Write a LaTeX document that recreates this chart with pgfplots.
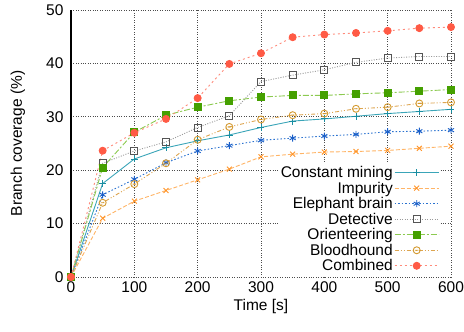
\documentclass[border=0pt]{standalone}
\usepackage{pgfplots}
\pgfplotsset{compat=1.18}
\usepackage{fontspec}
\setmainfont{Liberation Sans}
\definecolor{cmL}{HTML}{3AA5B8}
\definecolor{cmM}{HTML}{1A8EA2}
\definecolor{imL}{HTML}{FFB466}
\definecolor{imM}{HTML}{FF9428}
\definecolor{ebL}{HTML}{2A72D0}
\definecolor{ebM}{HTML}{1A5FC8}
\definecolor{deL}{HTML}{9A9A9A}
\definecolor{deM}{HTML}{555555}
\definecolor{orL}{HTML}{8CCA50}
\definecolor{orM}{HTML}{45A000}
\definecolor{blL}{HTML}{DDA550}
\definecolor{blM}{HTML}{D49A30}
\definecolor{coL}{HTML}{FF8A7A}
\definecolor{coM}{HTML}{FF5A45}
\pgfdeclareplotmark{ominus}{%
  \pgfpathcircle{\pgfpoint{0pt}{0pt}}{\pgfplotmarksize}%
  \pgfpathmoveto{\pgfpoint{-0.5\pgfplotmarksize}{0pt}}%
  \pgfpathlineto{\pgfpoint{0.5\pgfplotmarksize}{0pt}}%
  \pgfusepathqstroke}
\begin{document}
\begin{tikzpicture}
\useasboundingbox (-71pt,-55pt) rectangle (393pt,277pt);
\begin{axis}[
  at={(0pt,0pt)}, anchor=south west,
  scale only axis, width=380pt, height=267pt,
  xmin=0, xmax=600, ymin=0, ymax=50,
  xtick={0,100,...,600}, ytick={0,10,...,50},
  font=\fontsize{15.5}{17}\selectfont,
  /pgf/number format/assume math mode=true,
  axis lines*=left,
  axis line style={-},
  x axis line style={draw=none},
  y axis line style={black, line width=1.2pt},
  major tick length=0pt,
  grid=major,
  major grid style={black!70, dotted, line width=0.7pt},
  yticklabel style={xshift=-4pt},
  xticklabel style={yshift=-1pt},
  xlabel={Time [s]}, ylabel={Branch coverage (\%)},
  xlabel style={at={(axis description cs:0.5,-0.11)}, anchor=center},
  ylabel style={at={(axis description cs:-0.1395,0.5)}, anchor=center},
  legend style={at={(0.972,0.008)}, anchor=south east, draw=none, fill=white,
    font=\fontsize{15.5}{17}\selectfont, row sep=-0.2pt, inner sep=1pt,
    nodes={inner sep=1.5pt}},
  legend cell align=right,
  legend plot pos=right,
  legend image code/.code={\draw[mark repeat=2,mark phase=2] plot coordinates {(0pt,0pt)(22pt,0pt)(44pt,0pt)};},
  every axis plot/.append style={line width=0.9pt},
  mark size=3.5pt,
]
\addplot[cmL, mark=+, mark options={cmM, solid, line width=0.9pt}] coordinates {
(0,0)(50,17.5)(100,22.1)(150,24.2)(200,25.5)(250,26.6)(300,28.0)(350,29.2)(400,29.6)(450,30.1)(500,30.6)(550,31.0)(600,31.4)};
\addlegendentry{Constant mining}
\addplot[imL, dash pattern=on 4pt off 2pt, mark=x, mark options={imM, solid, line width=0.9pt}] coordinates {
(0,0)(50,11.0)(100,14.2)(150,16.2)(200,18.2)(250,20.2)(300,22.5)(350,23.0)(400,23.4)(450,23.5)(500,23.7)(550,24.1)(600,24.5)};
\addlegendentry{Impurity}
\addplot[ebL, dash pattern=on 1.5pt off 2pt, mark=asterisk, mark options={ebM, solid, line width=0.9pt}] coordinates {
(0,0)(50,15.4)(100,18.3)(150,21.4)(200,23.6)(250,24.6)(300,25.6)(350,26.0)(400,26.4)(450,26.7)(500,27.2)(550,27.3)(600,27.5)};
\addlegendentry{Elephant brain}
\addplot[deL, dash pattern=on 1pt off 1.5pt, mark=square, mark options={deM, solid, line width=0.9pt}] coordinates {
(0,0)(50,21.3)(100,23.6)(150,25.3)(200,28.0)(250,30.2)(300,36.6)(350,37.8)(400,38.8)(450,40.2)(500,41.0)(550,41.3)(600,41.3)};
\addlegendentry{Detective}
\addplot[orL, dash pattern=on 6pt off 2pt on 2pt off 2pt, mark=square*, mark options={orM, fill=orM, solid}] coordinates {
(0,0)(50,20.5)(100,27.1)(150,30.3)(200,31.8)(250,33.0)(300,33.7)(350,34.0)(400,34.0)(450,34.3)(500,34.5)(550,34.8)(600,35.1)};
\addlegendentry{Orienteering}
\addplot[blL, dash pattern=on 4pt off 2pt on 1pt off 2pt on 1pt off 2pt, mark=ominus, mark options={blM, solid, line width=0.9pt}] coordinates {
(0,0)(50,13.9)(100,17.4)(150,21.3)(200,25.7)(250,28.1)(300,29.5)(350,30.3)(400,30.6)(450,31.5)(500,31.8)(550,32.5)(600,32.7)};
\addlegendentry{Bloodhound}
\addplot[coL, dash pattern=on 2pt off 3pt, mark=*, mark options={coM, fill=coM, solid}] coordinates {
(0,0)(50,23.65)(100,27.0)(150,29.6)(200,33.5)(250,39.9)(300,41.9)(350,44.9)(400,45.4)(450,45.7)(500,46.1)(550,46.6)(600,46.8)};
\addlegendentry{Combined}
\end{axis}
\end{tikzpicture}
\end{document}
